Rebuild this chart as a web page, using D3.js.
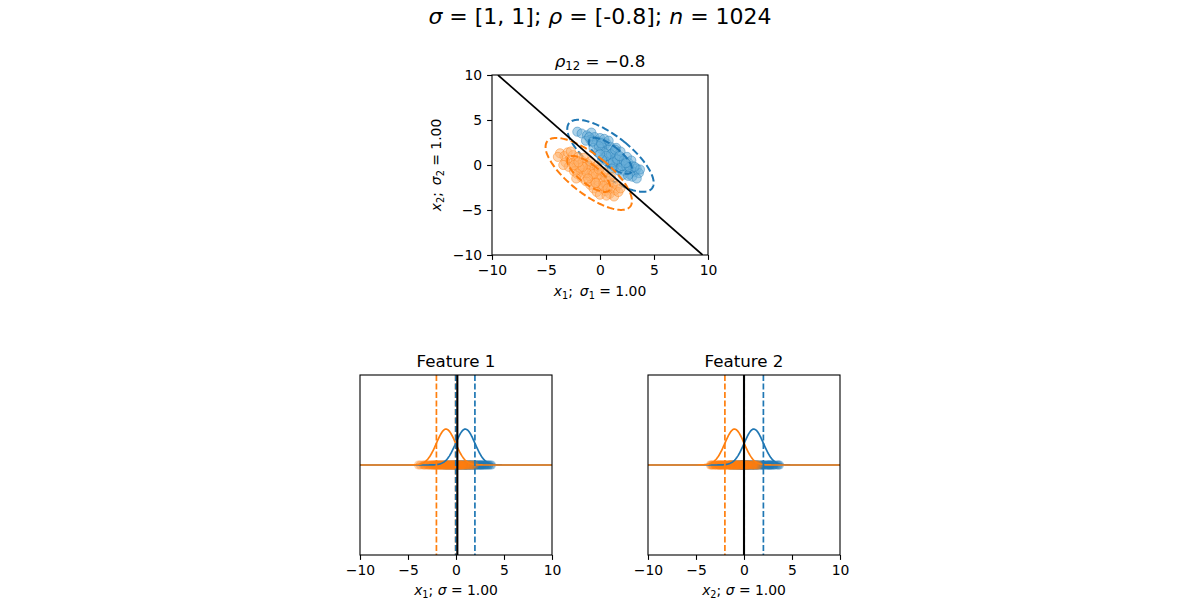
<!DOCTYPE html>
<html>
<head>
<meta charset="utf-8">
<script src="https://cdn.jsdelivr.net/npm/d3@7"></script>
<style>
  body { margin: 0; background: #fff; }
  text { font-family: "DejaVu Sans", sans-serif; fill: #000; }
</style>
</head>
<body>
<svg width="1200" height="600"></svg>
<script>
// samples (x1, x2)
var blueSamples = [
  [-2.1, 3.7], [-1.7, 3.5], [-1.2, 3.3], [-0.8, 3.6], [-0.5, 3.1], [-0.9, 2.8], [-0.3, 2.7], [0.0, 3.0],
  [0.2, 2.5], [-0.4, 2.3], [0.4, 2.1], [0.1, 1.8], [0.6, 2.4], [0.8, 1.7], [0.5, 1.3], [1.0, 2.0],
  [1.2, 1.4], [0.9, 0.9], [1.4, 0.8], [1.1, 0.5], [1.6, 1.1], [1.8, 0.3], [1.5, 0.1], [2.0, 0.7],
  [2.2, 0.0], [1.9, -0.3], [2.4, -0.2], [2.6, 0.3], [2.3, -0.7], [2.8, -0.5], [3.0, -0.1], [2.7, -1.0],
  [3.2, -0.8], [3.4, -0.4], [3.0, -1.3], [3.6, -0.9], [3.7, -0.5], [3.4, -1.5], [0.3, 0.8], [0.7, 0.3],
  [-0.2, 1.4], [-0.6, 1.9], [1.3, -0.2], [0.9, 0.1], [1.7, -0.6], [2.1, -1.1], [2.5, 0.9], [2.9, 0.5],
  [1.5, 1.9], [1.9, 1.5], [0.4, 2.9], [-1.3, 2.7], [-0.1, 2.1], [1.0, 1.2], [1.2, 0.3], [0.6, 1.0],
  [2.0, -0.1], [1.6, 0.6], [2.7, -0.2], [3.2, -0.2], [-1.0, 3.1], [0.1, 2.4], [0.8, 2.7], [1.4, 1.7],
  [2.2, 0.5], [2.6, -1.2], [1.1, -0.4], [0.2, 0.6], [0.0, 1.2], [1.8, 1.0], [2.4, 0.2], [-0.7, 2.6]
];
var orangeSamples = [
  [-3.7, 1.3], [-3.3, 1.0], [-3.0, 1.4], [-2.8, 0.6], [-2.5, 1.1], [-2.6, 0.2], [-2.2, 0.5], [-2.0, 0.9],
  [-2.3, -0.3], [-1.9, 0.0], [-1.6, 0.4], [-1.8, -0.6], [-1.4, -0.2], [-1.2, 0.2], [-1.5, -0.9], [-1.1, -0.6],
  [-0.9, -0.1], [-1.0, -1.2], [-0.7, -0.8], [-0.5, -0.4], [-0.8, -1.5], [-0.4, -1.2], [-0.2, -0.7], [-0.5, -1.9],
  [-0.1, -1.6], [0.1, -1.1], [-0.2, -2.3], [0.3, -1.9], [0.5, -1.4], [0.2, -2.6], [0.6, -2.2], [0.8, -1.8],
  [0.5, -2.9], [1.0, -2.5], [1.2, -2.0], [0.9, -3.2], [1.4, -2.8], [1.6, -2.3], [1.3, -3.5], [1.7, -3.0],
  [-3.2, 0.3], [-2.9, -0.2], [-2.4, -0.7], [-2.1, -1.0], [-1.7, -1.4], [-1.3, -1.8], [-0.9, -2.2], [-0.6, -2.6],
  [-0.3, -3.0], [0.0, -3.3], [-2.7, 1.5], [-1.5, 0.8], [-0.9, 0.4], [-0.3, -0.1], [0.4, -0.8], [1.0, -1.3],
  [-1.2, -0.9], [-0.6, -1.0], [-1.9, -0.3], [-2.4, 0.0], [0.3, -2.3], [-0.4, -2.0], [-1.1, -1.5], [0.7, -2.6],
  [-1.6, -0.2], [-2.0, 0.3], [-3.9, 0.9], [1.9, -2.6], [-2.2, -1.5], [-0.1, -0.5], [0.6, -3.4], [-3.4, 0.0]
];

var meanBlue = [0.97, 1.02];
var meanOrange = [-1.04, -0.99];
var sigmas = [1, 1];
var sampleRho = -0.75;
var ellipseStds = [2, 4];
var boundaryX = [-9.45, 9.5];
var boundaryY = [10, -10];
var thresholds = [0.14, 0.0];
var tickVals = [-10, -5, 0, 5, 10];
var featureTitles = ["Feature 1", "Feature 2"];

var C0 = "#1f77b4", C1 = "#ff7f0e";
var svg = d3.select("svg");
var fmt = (d) => d < 0 ? "\u2212" + Math.abs(d) : "" + d;

// math-ish text: parts are [text, style] with style "i" italic, "s" subscript
function mathText(sel, parts) {
  var shift = 0;
  parts.forEach((p) => {
    var t = sel.append("tspan").text(p[0]);
    var st = p[1] || "";
    if (st.indexOf("i") >= 0) t.attr("font-style", "italic");
    if (st.indexOf("s") >= 0) {
      t.attr("font-size", "70%");
      if (shift === 0) { t.attr("dy", 3); shift = 3; }
    } else if (shift !== 0) {
      t.attr("dy", -shift); shift = 0;
    }
  });
  return sel;
}

function axes(x0, y0, w, h, id) {
  var g = svg.append("g").attr("transform", `translate(${x0},${y0})`);
  g.append("clipPath").attr("id", id).append("rect").attr("width", w).attr("height", h);
  var x = d3.scaleLinear().domain([-10, 10]).range([0, w]);
  var ax = g.append("g").attr("transform", `translate(0,${h})`)
    .call(d3.axisBottom(x).tickValues(tickVals).tickFormat(fmt).tickSize(4.9).tickSizeOuter(0).tickPadding(5));
  ax.select(".domain").remove();
  ax.selectAll("text").attr("font-size", "13.9px").attr("font-family", "DejaVu Sans");
  ax.selectAll("line").attr("stroke-width", 1.1);
  var plot = g.append("g").attr("clip-path", `url(#${id})`);
  return {g: g, plot: plot, x: x};
}

function frame(g, w, h) {
  g.append("rect").attr("width", w).attr("height", h)
    .attr("fill", "none").attr("stroke", "#000").attr("stroke-width", 1.1);
}

// ---------- top scatter ----------
var T = axes(492, 75, 216, 180, "clipTop");
var yT = d3.scaleLinear().domain([-10, 10]).range([180, 0]);
var ay = T.g.append("g")
  .call(d3.axisLeft(yT).tickValues(tickVals).tickFormat(fmt).tickSize(4.9).tickSizeOuter(0).tickPadding(5));
ay.select(".domain").remove();
ay.selectAll("text").attr("font-size", "13.9px").attr("font-family", "DejaVu Sans");
ay.selectAll("line").attr("stroke-width", 1.1);

function ellipsePts(m, n) {
  var a = Math.sqrt(1 + sampleRho), b = Math.sqrt(1 - sampleRho);
  return d3.range(0, 2 * Math.PI + 0.01, Math.PI / 90).map((t) => {
    var u = Math.cos(t) * a, v = Math.sin(t) * b;
    return [m[0] + (u - v) / Math.SQRT2 * sigmas[0] * n, m[1] + (u + v) / Math.SQRT2 * sigmas[1] * n];
  });
}
var ellLine = d3.line().x((d) => T.x(d[0])).y((d) => yT(d[1]));

function cluster(data, m, col, light) {
  T.plot.append("g").selectAll("circle").data(data).enter().append("circle")
    .attr("cx", (d) => T.x(d[0])).attr("cy", (d) => yT(d[1])).attr("r", 4.6)
    .attr("fill", light).attr("fill-opacity", 0.55)
    .attr("stroke", col).attr("stroke-opacity", 0.55).attr("stroke-width", 0.8);
  ellipseStds.forEach((n) => {
    T.plot.append("path").attr("d", ellLine(ellipsePts(m, n)))
      .attr("fill", "none").attr("stroke", col).attr("stroke-width", 2)
      .attr("stroke-dasharray", "7.4,3.2");
  });
}
cluster(blueSamples, meanBlue, C0, "#6aaed8");
cluster(orangeSamples, meanOrange, C1, "#ffb26e");

T.plot.append("path").attr("d", d3.line()(boundaryX.map((v, i) => [T.x(v), yT(boundaryY[i])])))
  .attr("stroke", "#000").attr("stroke-width", 1.7).attr("fill", "none");
frame(T.g, 216, 180);

mathText(svg.append("text").attr("x", 600).attr("y", 67).attr("text-anchor", "middle").attr("font-size", "16.7px"),
  [["\u03c1", "i"], ["12", "s"], [" = \u22120.8"]]);
mathText(svg.append("text").attr("x", 600).attr("y", 296).attr("text-anchor", "middle").attr("font-size", "13.9px"),
  [["x", "i"], ["1", "s"], [";\u2002"], ["\u03c3", "i"], ["1", "s"], [" = 1.00"]]);
mathText(svg.append("text").attr("transform", "translate(441,165) rotate(-90)").attr("text-anchor", "middle").attr("font-size", "13.9px"),
  [["x", "i"], ["2", "s"], [";\u2002"], ["\u03c3", "i"], ["2", "s"], [" = 1.00"]]);

mathText(svg.append("text").attr("x", 600).attr("y", 24).attr("text-anchor", "middle").attr("font-size", "22px"),
  [["\u03c3", "i"], [" =  [1, 1]; "], ["\u03c1", "i"], [" =  [-0.8]; "], ["n", "i"], [" =  1024"]]);

// ---------- feature strips ----------
var pdf = (v, m, s) => Math.exp(-0.5 * ((v - m) / s) ** 2) / (s * Math.sqrt(2 * Math.PI));
var grid = d3.range(-10, 10.001, 0.05);

[0, 1].forEach((k) => {
  var left = k === 0 ? 360 : 648;
  var P = axes(left, 375, 192, 180, "clipF" + k);
  var y = d3.scaleLinear().domain([-1, 1]).range([180, 0]);
  var x = P.x;

  [[blueSamples, C0], [orangeSamples, C1]].forEach((s) => {
    P.plot.append("g").selectAll("circle").data(s[0]).enter().append("circle")
      .attr("cx", (d) => x(d[k])).attr("cy", y(0)).attr("r", 4.6)
      .attr("fill", s[1]).attr("fill-opacity", 0.35);
  });

  [[meanBlue, C0], [meanOrange, C1]].forEach((s) => {
    var m = s[0][k];
    P.plot.append("path")
      .attr("d", d3.line().x((v) => x(v)).y((v) => y(pdf(v, m, sigmas[k])))(grid))
      .attr("fill", "none").attr("stroke", s[1]).attr("stroke-width", 1.7);
  });

  [[meanOrange, C1], [meanBlue, C0]].forEach((s) => {
    [-1, 1].forEach((sgn) => {
      var v = s[0][k] + sgn * sigmas[k];
      P.plot.append("line").attr("x1", x(v)).attr("x2", x(v)).attr("y1", 0).attr("y2", 180)
        .attr("stroke", s[1]).attr("stroke-width", 1.7).attr("stroke-dasharray", "5.9,2.6");
    });
  });

  P.plot.append("line").attr("x1", x(thresholds[k])).attr("x2", x(thresholds[k]))
    .attr("y1", 0).attr("y2", 180).attr("stroke", "#000").attr("stroke-width", 2.1);
  frame(P.g, 192, 180);

  P.g.append("text").attr("x", 96).attr("y", -8).attr("text-anchor", "middle")
    .attr("font-size", "16.7px").text(featureTitles[k]);
  mathText(P.g.append("text").attr("x", 96).attr("y", 220).attr("text-anchor", "middle").attr("font-size", "13.9px"),
    [["x", "i"], [String(k + 1), "s"], ["; "], ["\u03c3", "i"], [" = 1.00"]]);
});
</script>
</body>
</html>
